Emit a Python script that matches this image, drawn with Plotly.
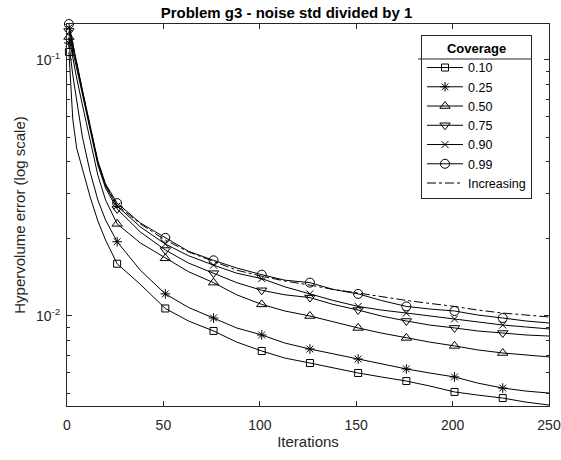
import plotly.graph_objects as go

# ---------------- data ----------------
iterations = [1, 3, 5, 8, 12, 16, 20, 26, 38, 51, 63, 76, 88, 101, 113, 126,
              138, 151, 163, 176, 188, 201, 213, 226, 238, 250]
marker_iterations = [1, 26, 51, 76, 101, 126, 151, 176, 201, 226]

cov_010 = [0.1075, 0.0588, 0.0453, 0.0372, 0.0292, 0.0235, 0.0198, 0.0160, 0.0133, 0.0107,
           0.00956, 0.00874, 0.00791, 0.00730, 0.00685, 0.00655, 0.00626, 0.00599, 0.00578,
           0.00557, 0.00533, 0.00505, 0.00491, 0.00478, 0.00461, 0.00449]
cov_025 = [0.1165, 0.0874, 0.0698, 0.0500, 0.0365, 0.0284, 0.0237, 0.0195, 0.0151, 0.0122,
           0.0108, 0.00982, 0.00898, 0.00843, 0.00784, 0.00743, 0.00711, 0.00679, 0.00649,
           0.00621, 0.00599, 0.00578, 0.00547, 0.00523, 0.00509, 0.00500]
cov_050 = [0.1230, 0.1018, 0.0851, 0.0667, 0.0487, 0.0355, 0.0284, 0.0229, 0.0193, 0.0168,
           0.0149, 0.0135, 0.0121, 0.0111, 0.01046, 0.0100, 0.00947, 0.00898, 0.00858,
           0.00821, 0.00791, 0.00764, 0.00737, 0.00717, 0.00704, 0.00692]
cov_075 = [0.1298, 0.1075, 0.0931, 0.0730, 0.0533, 0.0389, 0.0316, 0.0262, 0.0213, 0.0181,
           0.0161, 0.0147, 0.0135, 0.0126, 0.0121, 0.0118, 0.0111, 0.01055, 0.0100,
           0.00956, 0.00922, 0.00898, 0.00874, 0.00858, 0.00843, 0.00835]
cov_090 = [0.1334, 0.1114, 0.0965, 0.0750, 0.0542, 0.0396, 0.0322, 0.0269, 0.0223, 0.0191,
           0.0172, 0.0158, 0.0147, 0.0140, 0.0130, 0.0122, 0.0115, 0.0109, 0.01055,
           0.01027, 0.0100, 0.00973, 0.00947, 0.00922, 0.00906, 0.00890]
cov_099 = [0.1382, 0.1145, 0.0982, 0.0763, 0.0552, 0.0403, 0.0328, 0.0276, 0.0231, 0.0202,
           0.0179, 0.0165, 0.0154, 0.0145, 0.0138, 0.0135, 0.0127, 0.0122, 0.0115,
           0.0109, 0.01065, 0.01046, 0.01009, 0.00982, 0.00956, 0.00939]
increasing = [0.1358, 0.1134, 0.0973, 0.0757, 0.0547, 0.0400, 0.0325, 0.0271, 0.0229, 0.0198,
              0.0178, 0.0163, 0.0151, 0.0143, 0.0137, 0.0132, 0.0127, 0.0123, 0.0119,
              0.0115, 0.0112, 0.0109, 0.01055, 0.01027, 0.01009, 0.00991]

coverage_labels = ["0.10", "0.25", "0.50", "0.75", "0.90", "0.99"]
coverage_series = [cov_010, cov_025, cov_050, cov_075, cov_090, cov_099]
increasing_label = "Increasing"

title_text = "Problem g3 - noise std divided by 1"
x_title = "Iterations"
y_title = "Hypervolume error (log scale)"
legend_title = "Coverage"
x_ticks = [0, 50, 100, 150, 200, 250]
y_ticks = [0.01, 0.1]
y_ticktext = ["10<sup>-2</sup>", "10<sup>-1</sup>"]
y_minor = [0.005, 0.006, 0.007, 0.008, 0.009, 0.02, 0.03, 0.04, 0.05, 0.06, 0.07, 0.08, 0.09]
x_range = [0, 250]
y_range_log = [-2.3516, -0.8594]

# ---------------- styles ----------------
FONT = "Liberation Sans, Arial, Helvetica, sans-serif"
AX = "#262626"
symbols = ["square-open", "asterisk-open", "triangle-up-open", "triangle-down-open",
           "x-thin-open", "circle-open"]
sizes = [7, 8, 9, 9, 7, 9]

W, H = 561, 460
L, R, T, B = 67, 12, 24, 54

fig = go.Figure()

for lab, vals, sym, sz in zip(coverage_labels, coverage_series, symbols, sizes):
    fig.add_trace(go.Scatter(x=iterations, y=vals, mode="lines",
                             line=dict(color="black", width=1),
                             showlegend=False, hoverinfo="skip"))
    mx = [it for it in iterations if it in marker_iterations]
    my = [v for it, v in zip(iterations, vals) if it in marker_iterations]
    fig.add_trace(go.Scatter(x=mx, y=my, mode="markers", cliponaxis=False,
                             marker=dict(symbol=sym, size=sz, color="black",
                                         line=dict(color="black", width=1)),
                             showlegend=False))

fig.add_trace(go.Scatter(x=iterations, y=increasing, mode="lines",
                         line=dict(color="black", width=1, dash="dashdot"),
                         showlegend=False))

# legend entries
for lab, sym, sz in zip(coverage_labels, symbols, sizes):
    fig.add_trace(go.Scatter(x=[None], y=[None], mode="lines+markers", name=lab,
                             line=dict(color="black", width=1),
                             marker=dict(symbol=sym, size=sz, color="black",
                                         line=dict(color="black", width=1))))
fig.add_trace(go.Scatter(x=[None], y=[None], mode="lines", name=increasing_label,
                         line=dict(color="black", width=1, dash="dashdot")))

pw = W - L - R
ph = H - T - B
def px_x(p):
    return (p - L) / pw
def px_y(p):
    return (H - B - p) / ph

fig.update_layout(
    template="none",
    width=W, height=H, autosize=False,
    margin=dict(l=L, r=R, t=T, b=B, pad=0),
    paper_bgcolor="white", plot_bgcolor="white",
    font=dict(family=FONT, size=14, color=AX),
    title=dict(text="<b>" + title_text + "</b>", x=286.5 / W, xref="container",
               y=1 - 12.5 / H, yref="container", xanchor="center", yanchor="middle",
               font=dict(size=15, color="black", family=FONT)),
    xaxis=dict(range=x_range, tickvals=x_ticks, ticks="inside", ticklen=5,
               tickcolor=AX, linecolor=AX, linewidth=1, mirror="ticks",
               showline=True, showgrid=False, zeroline=False, automargin=False,
               ticklabelstandoff=6,
               title=dict(text=x_title, font=dict(size=15, color=AX), standoff=4),
               tickfont=dict(size=14, color=AX)),
    yaxis=dict(type="log", range=y_range_log, tickvals=y_ticks, ticktext=y_ticktext,
               ticks="inside", ticklen=5, tickcolor=AX, linecolor=AX, linewidth=1,
               mirror="ticks", showline=True, showgrid=False, zeroline=False,
               automargin=False, ticklabelstandoff=3,
               minor=dict(tickvals=y_minor, ticks="inside", ticklen=3, tickcolor=AX,
                          showgrid=False),
               title=dict(text=y_title, font=dict(size=15, color=AX), standoff=6),
               tickfont=dict(size=14, color=AX)),
    legend=dict(x=px_x(532), y=px_y(35), xanchor="right", yanchor="top",
                bgcolor="rgba(255,255,255,0)", bordercolor=AX, borderwidth=1,
                font=dict(size=12.5, color="black", family=FONT), itemwidth=36,
                title=dict(text="<b>" + legend_title + "</b>", side="top center",
                           font=dict(size=13, color="black", family=FONT)),
                tracegroupgap=0),
)

fig.add_shape(type="line", xref="paper", yref="paper",
              x0=px_x(418), x1=px_x(532), y0=px_y(59), y1=px_y(59),
              line=dict(color=AX, width=1))

fig.write_html("out.html", config={"responsive": False})
